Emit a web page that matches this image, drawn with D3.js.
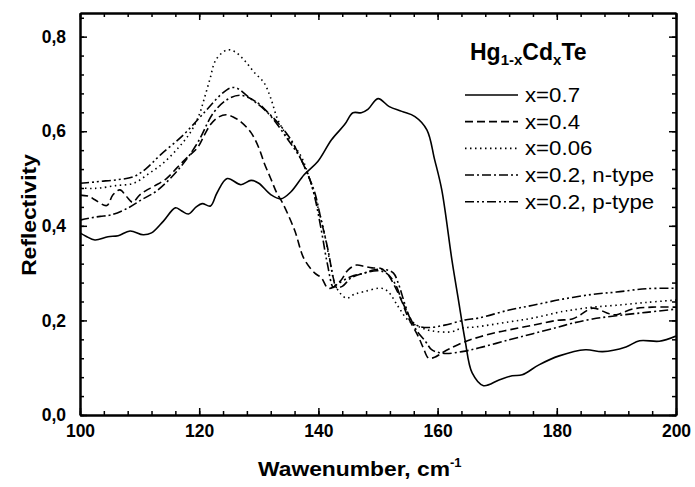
<!DOCTYPE html>
<html><head><meta charset="utf-8">
<script src="https://cdn.jsdelivr.net/npm/d3@7"></script>
<style>body{margin:0;background:#fff;}svg{display:block;}</style>
</head><body>
<svg id="c" width="695" height="487"></svg>
<script>
const xTicks = [100,120,140,160,180,200];
const yTicks = [0,0.2,0.4,0.6,0.8];
const yTickLabels = ["0,0","0,2","0,4","0,6","0,8"];
const legendLabels = ["x=0.7","x=0.4","x=0.06","x=0.2, n-type","x=0.2, p-type"];

const sX07 = [[100,0.385],[101,0.378],[102.5,0.370],[104.7,0.377],[106.4,0.379],[108.4,0.389],[110.6,0.381],[112,0.385],[114,0.41],[116,0.438],[117,0.432],[118.2,0.425],[119.5,0.44],[120.5,0.447],[121.9,0.442],[123,0.47],[124.7,0.50],[127,0.487],[128.7,0.496],[130,0.49],[132,0.466],[133.7,0.457],[135.4,0.472],[137.6,0.508],[139.9,0.536],[142.2,0.582],[144.4,0.614],[145.8,0.639],[147.2,0.639],[148.3,0.646],[150,0.669],[151.9,0.652],[154,0.642],[156.2,0.631],[158.2,0.603],[159.5,0.54],[160.7,0.476],[162.4,0.328],[163.5,0.243],[164.6,0.159],[165.8,0.089],[167.7,0.062],[170.3,0.074],[172.5,0.083],[174.2,0.085],[177,0.106],[180.4,0.125],[184.8,0.138],[187.7,0.134],[191.6,0.144],[193.9,0.157],[197.2,0.156],[200,0.167]];

const sX04 = [[100,0.465],[101.6,0.462],[102.5,0.455],[104.5,0.443],[105.5,0.465],[106.7,0.476],[107.8,0.462],[108.8,0.45],[110,0.465],[111,0.474],[112.6,0.485],[114.5,0.5],[116.3,0.523],[118,0.545],[119.7,0.565],[121,0.595],[121.9,0.614],[123,0.628],[124.5,0.635],[126,0.628],[127,0.62],[128.7,0.597],[130,0.565],[130.9,0.533],[132,0.5],[133,0.47],[134,0.448],[136,0.391],[137.6,0.33],[139.4,0.30],[140.5,0.29],[141.6,0.268],[142.5,0.27],[143.8,0.285],[145,0.307],[146.4,0.317],[147.7,0.314],[149,0.311],[150.5,0.31],[151.5,0.3],[152.5,0.28],[154,0.24],[155,0.208],[156.8,0.165],[157.6,0.142],[158.5,0.12],[159.5,0.122],[160.7,0.131],[162,0.14],[164.6,0.155],[167,0.165],[170,0.175],[172,0.18],[176,0.19],[180,0.2],[182.6,0.203],[184,0.212],[186,0.226],[188.8,0.214],[190,0.212],[192.7,0.224],[196,0.228],[200,0.228]];

const sX006 = [[100,0.48],[102,0.479],[103.4,0.48],[106,0.485],[109,0.49],[111.5,0.51],[114,0.533],[116.5,0.565],[118.5,0.597],[120,0.635],[120.8,0.667],[121.8,0.71],[122.8,0.751],[124.7,0.772],[126,0.768],[127.5,0.751],[129.2,0.725],[130.9,0.702],[132,0.67],[133.2,0.624],[135,0.585],[137.1,0.547],[138.5,0.5],[139.9,0.44],[141,0.385],[142,0.32],[143,0.27],[144.7,0.247],[146,0.255],[147.7,0.261],[150.6,0.268],[151.7,0.261],[153.4,0.229],[155,0.201],[156.8,0.187],[159,0.178],[162.4,0.176],[164.1,0.184],[166.3,0.186],[172,0.197],[176,0.205],[181,0.219],[182.6,0.222],[186,0.228],[190,0.232],[195,0.238],[200,0.243]];

const sN = [[100,0.412],[101.9,0.417],[103.4,0.42],[105.2,0.423],[108.1,0.438],[110.3,0.455],[113,0.475],[116.9,0.525],[119.7,0.575],[122.4,0.639],[124.7,0.667],[127,0.676],[129.8,0.66],[131.5,0.64],[133.2,0.618],[135.4,0.582],[137.1,0.54],[138.5,0.5],[139.4,0.47],[140.5,0.41],[141.6,0.35],[142.5,0.29],[143,0.27],[144,0.272],[145.5,0.29],[147.7,0.3],[150,0.305],[151.4,0.3],[152.8,0.279],[154.2,0.236],[155.6,0.2],[156.5,0.178],[158,0.155],[159,0.138],[160.2,0.132],[161.5,0.13],[164.1,0.134],[167,0.142],[172,0.159],[176,0.172],[180,0.185],[182.6,0.194],[186,0.203],[190,0.21],[195,0.217],[200,0.224]];

const sP = [[100,0.49],[102,0.492],[103.4,0.494],[106,0.497],[109,0.504],[111,0.52],[113.5,0.55],[117.4,0.593],[120.8,0.639],[123.6,0.677],[125.3,0.692],[126.5,0.69],[128.1,0.674],[131.5,0.639],[134.9,0.582],[137.1,0.54],[138.5,0.5],[139.4,0.46],[140.5,0.39],[141.5,0.32],[142.5,0.27],[143,0.275],[145.5,0.293],[147.7,0.30],[149.4,0.307],[151.4,0.307],[152.6,0.30],[153.5,0.275],[154.5,0.235],[155.6,0.2],[156.8,0.188],[158.5,0.185],[161.2,0.19],[164.6,0.201],[166.9,0.205],[172,0.222],[176,0.232],[181,0.245],[186,0.255],[190,0.26],[195,0.267],[200,0.268]];

const seriesData = [sX07, sX04, sX006, sN, sP];
const dashes = [null, "8,4", "1.5,3.5", "9,3,2,3", "9,3,2,3,2,3"];

const svg = d3.select("#c");
const L=80, R=676, T=13, B=415;
const x = d3.scaleLinear().domain([100,200]).range([L,R]);
const y = d3.scaleLinear().domain([0,0.85]).range([B,T]);
const font = "'Liberation Sans', Arial, sans-serif";

const minorX = d3.range(100,200.01,4);
const minorY = d3.range(0,0.8501,0.04).map(v=>+v.toFixed(2));

function styleAxis(g){
  g.select(".domain").attr("stroke","#000").attr("stroke-width",2);
  g.selectAll(".tick line").attr("stroke","#000").attr("stroke-width",1.5);
}
// minor ticks
svg.append("g").attr("transform",`translate(0,${B})`).call(d3.axisBottom(x).tickValues(minorX).tickSizeInner(-4).tickSizeOuter(0).tickFormat("")).call(styleAxis);
svg.append("g").attr("transform",`translate(0,${T})`).call(d3.axisTop(x).tickValues(minorX).tickSizeInner(-4).tickSizeOuter(0).tickFormat("")).call(styleAxis);
svg.append("g").attr("transform",`translate(${L},0)`).call(d3.axisLeft(y).tickValues(minorY).tickSizeInner(-4).tickSizeOuter(0).tickFormat("")).call(styleAxis);
svg.append("g").attr("transform",`translate(${R},0)`).call(d3.axisRight(y).tickValues(minorY).tickSizeInner(-4).tickSizeOuter(0).tickFormat("")).call(styleAxis);
// major
const gx = svg.append("g").attr("transform",`translate(0,${B})`).call(d3.axisBottom(x).tickValues(xTicks).tickSizeInner(-7).tickSizeOuter(0).tickPadding(10).tickFormat(d3.format("d"))).call(styleAxis);
svg.append("g").attr("transform",`translate(0,${T})`).call(d3.axisTop(x).tickValues(xTicks).tickSizeInner(-7).tickSizeOuter(0).tickFormat("")).call(styleAxis);
const gy = svg.append("g").attr("transform",`translate(${L},0)`).call(d3.axisLeft(y).tickValues(yTicks).tickSizeInner(-7).tickSizeOuter(0).tickPadding(14).tickFormat((d,i)=>yTickLabels[i])).call(styleAxis);
svg.append("g").attr("transform",`translate(${R},0)`).call(d3.axisRight(y).tickValues(yTicks).tickSizeInner(-7).tickSizeOuter(0).tickFormat("")).call(styleAxis);
[gx,gy].forEach(g=>g.selectAll("text").attr("font-family",font).attr("font-weight","bold").attr("font-size",17.5).attr("fill","#000"));

const line = d3.line().x(d=>x(d[0])).y(d=>y(d[1])).curve(d3.curveCatmullRom.alpha(0.5));
svg.append("clipPath").attr("id","clp").append("rect").attr("x",L).attr("y",T).attr("width",R-L).attr("height",B-T);
seriesData.forEach((s,i)=>{
  svg.append("path").datum(s).attr("d",line).attr("fill","none").attr("stroke","#000")
    .attr("stroke-width",1.6).attr("stroke-dasharray",dashes[i]).attr("clip-path","url(#clp)");
});

// legend
const lg = svg.append("g").attr("font-family",font).attr("fill","#000");
const title = lg.append("text").attr("x",470).attr("y",60).attr("font-size",23).attr("font-weight","bold");
title.append("tspan").text("Hg");
title.append("tspan").attr("font-size",15).attr("dy",5).text("1-x");
title.append("tspan").attr("dy",-5).text("Cd");
title.append("tspan").attr("font-size",15).attr("dy",5).text("x");
title.append("tspan").attr("dy",-5).text("Te");
legendLabels.forEach((t,i)=>{
  const yy = 95 + i*26.67;
  lg.append("line").attr("x1",465).attr("x2",518).attr("y1",yy).attr("y2",yy).attr("stroke","#000").attr("stroke-width",1.6).attr("stroke-dasharray",dashes[i]);
  const tx = lg.append("text").attr("x",525).attr("y",yy+7).attr("font-size",19.5).text(t);
  const w = tx.node().getComputedTextLength();
  tx.attr("textLength", w*1.14).attr("lengthAdjust","spacingAndGlyphs");
});

// axis titles
const xt = svg.append("text").attr("x",258).attr("y",476).attr("font-family",font).attr("font-weight","bold").attr("font-size",19.5);
const xm = xt.append("tspan").text("Wawenumber, cm");
const wx = xm.node().getComputedTextLength();
xm.attr("textLength", 192).attr("lengthAdjust","spacingAndGlyphs");
xt.append("tspan").attr("font-size",13).attr("dy",-9).text("-1");
const yt = svg.append("text").attr("transform","translate(36,215) rotate(-90)").attr("text-anchor","middle").attr("font-family",font).attr("font-weight","bold").attr("font-size",19.5).text("Reflectivity");
const wy = yt.node().getComputedTextLength();
yt.attr("textLength", wy*1.17).attr("lengthAdjust","spacingAndGlyphs");
</script>
</body></html>
